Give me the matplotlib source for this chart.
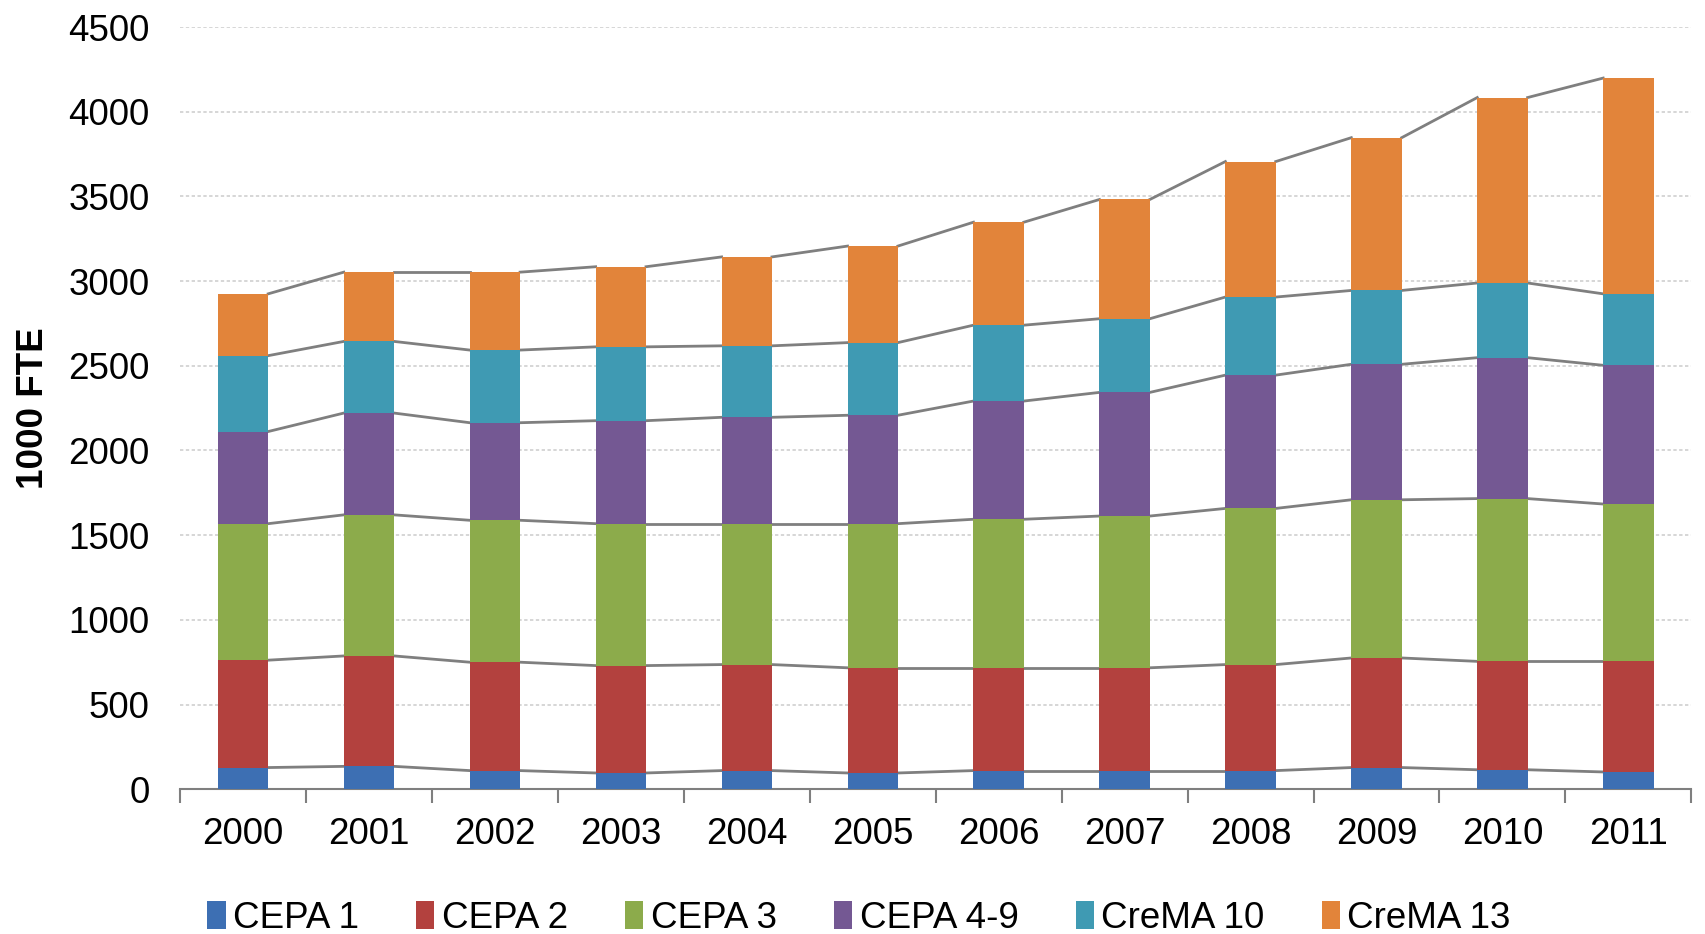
import matplotlib.pyplot as plt
import numpy as np

plt.rcParams['font.family'] = ['Liberation Sans', 'DejaVu Sans']

years = ['2000', '2001', '2002', '2003', '2004', '2005',
         '2006', '2007', '2008', '2009', '2010', '2011']
series = ['CEPA 1', 'CEPA 2', 'CEPA 3', 'CEPA 4-9', 'CreMA 10', 'CreMA 13']

# per-category values, 1000 FTE
cepa1 = [128, 135, 110, 96, 110, 96, 110, 110, 110, 128, 115, 102]
cepa2 = [634, 652, 640, 634, 626, 621, 607, 607, 626, 647, 640, 653]
cepa3 = [806, 833, 838, 838, 832, 851, 877, 896, 922, 934, 961, 929]
cepa49 = [544, 601, 576, 608, 628, 640, 698, 730, 787, 800, 832, 819]
crema10 = [448, 423, 429, 436, 422, 429, 448, 435, 461, 436, 441, 422]
crema13 = [365, 409, 460, 473, 525, 570, 608, 704, 800, 902, 1095, 1274]

colors = ['#3d6fb3', '#b3413e', '#8cab4b', '#745893', '#3f9ab3', '#e2843a']
data = [cepa1, cepa2, cepa3, cepa49, crema10, crema13]

fig = plt.figure(figsize=(17.05, 9.34), dpi=100)
ax = fig.add_axes([0.1056, 0.155, 0.8864, 0.816])

x = np.arange(len(years))
w = 0.4
bottom = np.zeros(len(years))
for vals, name, col in zip(data, series, colors):
    ax.bar(x, vals, w, bottom=bottom, color=col, label=name, zorder=3)
    bottom = bottom + np.array(vals)
    # series lines between bars
    for i in range(len(years) - 1):
        ax.plot([x[i] + w / 2, x[i + 1] - w / 2], [bottom[i], bottom[i + 1]],
                color='#7f7f7f', lw=2, zorder=2)

ax.set_xlim(-0.5, len(years) - 0.5)
ax.set_ylim(0, 4500)
ax.set_yticks(range(0, 4501, 500))
ax.set_xticks(x)
ax.set_xticklabels(years)
ax.set_xticks(np.arange(-0.5, len(years), 1), minor=True)
ax.tick_params(axis='x', which='major', length=0, pad=20, labelsize=26.5)
ax.tick_params(axis='x', which='minor', length=10, width=1.5, color='#7f7f7f')
ax.tick_params(axis='y', length=0, pad=22, labelsize=26.5)
ax.yaxis.grid(True, color='#cfcfcf', linestyle=(0, (2, 1.5)), lw=1.2, zorder=0)

for s in ['top', 'right', 'left']:
    ax.spines[s].set_visible(False)
ax.spines['bottom'].set_color('#7f7f7f')
ax.spines['bottom'].set_linewidth(1.5)

ax.set_ylabel('1000 FTE', fontsize=26.5, fontweight='bold', labelpad=12)

ax.legend(loc='center left', bbox_to_anchor=(0.018, -0.169), ncol=6, frameon=False,
          fontsize=26.5, handlelength=0.5, handleheight=0.8, handletextpad=0.2,
          columnspacing=1.55, borderaxespad=0, borderpad=0)

fig.savefig('out.png', dpi=100)
